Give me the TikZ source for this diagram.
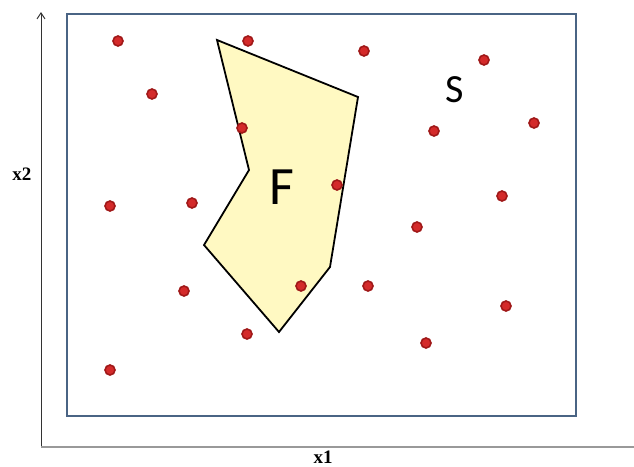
\documentclass[tikz,border=0pt]{standalone}
\usepackage{fontspec}
\setmainfont{Liberation Serif}
\newfontfamily\calib{Carlito}
\usetikzlibrary{arrows.meta}
\definecolor{boxblue}{HTML}{4A6484}
\definecolor{fyellow}{HTML}{FFF9C2}
\definecolor{dotred}{HTML}{D42A2A}
\definecolor{dotedge}{HTML}{A01818}
\tikzset{
  pt/.style={circle,fill=dotred,draw=dotedge,line width=1.6pt,inner sep=0pt,minimum size=10pt},
  axlabel/.style={font=\fontsize{19}{19}\selectfont\bfseries,inner sep=0pt},
}
\begin{document}
\begin{tikzpicture}[x=1pt,y=-1pt]
\useasboundingbox (0,0) rectangle (634,466);
% axes
\coordinate (O) at (41,447);
\coordinate (ytop) at (41,12);
\coordinate (xend) at (634,447);
\draw[line width=1pt,draw=black!80,-{Straight Barb[length=6pt,width=8pt]}] (41,446) -- (ytop);
\draw[line width=2pt,draw=black!40] (O) -- (xend);
% outer box S
\draw[boxblue,line width=2.4pt] (67,14) rectangle (576,416);
% region F
\draw[fill=fyellow,line width=1.8pt,line join=miter]
  (217,40) -- (358,97) -- (330,267) -- (279,332) -- (204,245) -- (249,170) -- cycle;
% labels
\node[font=\calib\fontsize{40}{40}\selectfont] (S) at (455,90) {S};
\node[font=\calib\fontsize{54}{54}\selectfont] (F) at (282,187) {F};
\node[axlabel] (x2) at (22,174) {x2};
\node[axlabel] (x1) at (323,457) {x1};
% points
\foreach \p/\q [count=\i] in {118/41,248/41,364/51,484/60,152/94,242/128,434/131,534/123,110/206,192/203,337/185,502/196,417/227,184/291,301/286,368/286,506/306,247/334,426/343,110/370}
  \node[pt] (p\i) at (\p,\q) {};
\end{tikzpicture}
\end{document}
